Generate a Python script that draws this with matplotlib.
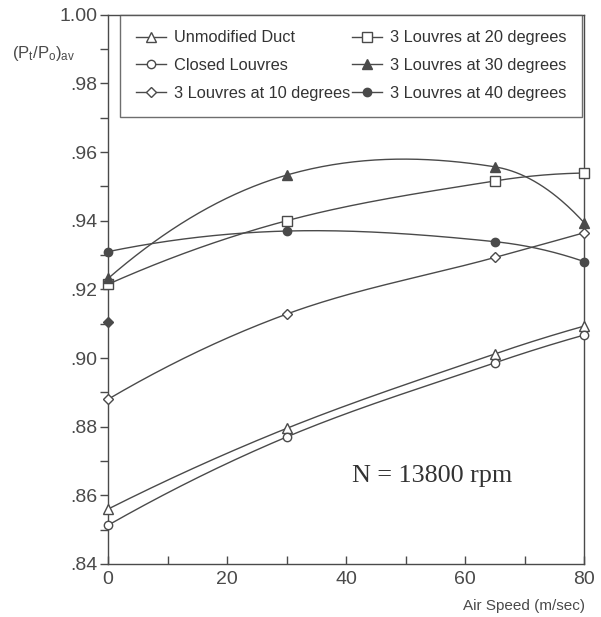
import numpy as np
import matplotlib
matplotlib.use('Agg')
import matplotlib.pyplot as plt

plt.rcParams['font.family'] = ['Liberation Sans', 'DejaVu Sans']
plt.rcParams['mathtext.fontset'] = 'custom'
plt.rcParams['mathtext.rm'] = 'Liberation Sans'
plt.rcParams['mathtext.it'] = 'Liberation Sans'

# air speed (m/sec)
speed = [0, 30, 65, 80]

# (Pt/Po)av for each configuration
unmodified = [0.856, 0.8795, 0.9012, 0.9093]
closed = [0.8513, 0.877, 0.8986, 0.9067]
louvres_10 = [0.888, 0.9128, 0.9293, 0.9365]
louvres_20 = [0.9215, 0.940, 0.9516, 0.9539]
louvres_30 = [0.9232, 0.9533, 0.9557, 0.9394]
louvres_40 = [0.931, 0.937, 0.9339, 0.9281]

# single extra point at zero speed
extra_x = [0]
extra_y = [0.9104]

labels = ['Unmodified Duct', 'Closed Louvres', '3 Louvres at 10 degrees',
          '3 Louvres at 20 degrees', '3 Louvres at 30 degrees', '3 Louvres at 40 degrees']

ink = '#4a4a4a'


def smooth(x, y, n=60):
    # piecewise cubic hermite curve through the points (for drawing only)
    x = np.asarray(x, float)
    y = np.asarray(y, float)
    m = np.zeros_like(y)
    for i in range(1, len(x) - 1):
        m[i] = (y[i + 1] - y[i - 1]) / (x[i + 1] - x[i - 1])
    m[0] = 2 * (y[1] - y[0]) / (x[1] - x[0]) - m[1]
    m[-1] = 2 * (y[-1] - y[-2]) / (x[-1] - x[-2]) - m[-2]
    xx, yy = [], []
    for i in range(len(x) - 1):
        h = x[i + 1] - x[i]
        t = np.linspace(0, 1, n)
        h00 = 2 * t**3 - 3 * t**2 + 1
        h10 = t**3 - 2 * t**2 + t
        h01 = -2 * t**3 + 3 * t**2
        h11 = t**3 - t**2
        xx.append(x[i] + t * h)
        yy.append(h00 * y[i] + h10 * h * m[i] + h01 * y[i + 1] + h11 * h * m[i + 1])
    return np.concatenate(xx), np.concatenate(yy)


fig = plt.figure(figsize=(6.01, 6.17), dpi=100)
ax = fig.add_axes([0.18, 0.086, 0.792, 0.89])

series = [
    (unmodified, '^', 'white'),
    (closed, 'o', 'white'),
    (louvres_10, 'D', 'white'),
    (louvres_20, 's', 'white'),
    (louvres_30, '^', ink),
    (louvres_40, 'o', ink),
]

handles = []
for (vals, mk, fc), lab in zip(series, labels):
    cx, cy = smooth(speed, vals)
    ax.plot(cx, cy, color=ink, lw=1.0, zorder=2)
    ms = 5.5 if mk == 'D' else (6 if mk == 'o' else 7)
    ax.plot(speed, vals, linestyle='none', marker=mk, mfc=fc, mec=ink,
            mew=1.0, ms=ms, zorder=3, clip_on=False)
    h, = ax.plot([], [], color=ink, lw=1.0, marker=mk, mfc=fc, mec=ink,
                 mew=1.0, ms=ms, label=lab)
    handles.append(h)

ax.plot(extra_x, extra_y, linestyle='none', marker='D', mfc=ink, mec=ink,
        ms=5.5, zorder=3, clip_on=False)

ax.set_xlim(0, 80)
ax.set_ylim(0.84, 1.00)
ax.set_xticks([0, 20, 40, 60, 80])
ax.set_xticks([10, 30, 50, 70], minor=True)
yt = [0.84, 0.86, 0.88, 0.90, 0.92, 0.94, 0.96, 0.98, 1.00]
ax.set_yticks(yt)
ax.set_yticklabels(['.84', '.86', '.88', '.90', '.92', '.94', '.96', '.98', '1.00'])
ax.set_yticks(np.arange(0.85, 1.0, 0.02), minor=True)

ax.tick_params(axis='x', which='both', direction='in', length=6, width=1,
               colors=ink, labelsize=14, pad=5)
ax.tick_params(axis='y', which='both', direction='out', length=6, width=1,
               colors=ink, labelsize=14, pad=2)
for s in ax.spines.values():
    s.set_color(ink)
    s.set_linewidth(1.0)

fig.text(0.02, 0.914, r'(P$_\mathrm{t}$/P$_\mathrm{o}$)$_\mathrm{av}$', fontsize=12,
         color=ink, ha='left', va='center')
fig.text(0.973, 0.018, 'Air Speed (m/sec)', fontsize=11, color=ink,
         ha='right', va='center')

ax.text(41, 0.8655, 'N = 13800 rpm', family=['Liberation Serif', 'DejaVu Serif'],
        fontsize=18.8, color='#333333', ha='left', va='center')

leg = ax.legend(handles=handles, ncol=2, loc='upper left',
                bbox_to_anchor=(0.025, 1.0, 0.971, 0.0), mode='expand',
                fontsize=11.8, frameon=True, fancybox=False, edgecolor=ink,
                borderpad=0.95, labelspacing=0.78, handlelength=1.85,
                handletextpad=0.5, columnspacing=0.5, borderaxespad=0)
leg.get_frame().set_linewidth(1.0)
for t in leg.get_texts():
    t.set_color('#333333')

fig.savefig('out.png', dpi=100)
